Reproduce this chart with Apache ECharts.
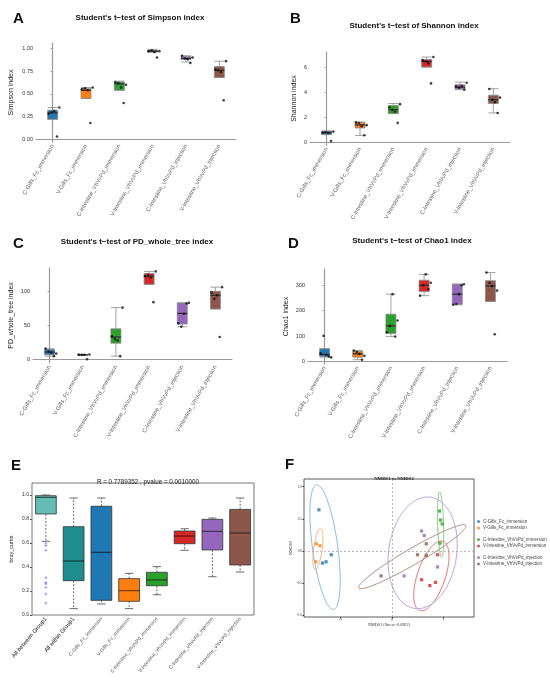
<!DOCTYPE html>
<html>
<head>
<meta charset="utf-8">
<script src="https://cdn.jsdelivr.net/npm/echarts@6/dist/echarts.min.js"></script>
<style>
  html, body { margin: 0; background: #fff; }
  #main { width: 550px; height: 685px; }
</style>
</head>
<body>
<div id="main"></div>
<script>
// groups shared by panels A-D and F
const groups = ['C-Gills_Fc_immersion', 'V-Gills_Fc_immersion', 'C-Intestine_VhVvPd_immersion',
  'V-Intestine_VhVvPd_immersion', 'C-Intestine_VhVvPd_injection', 'V-Intestine_VhVvPd_injection'];
const colors = ['#1f77b4', '#ff7f0e', '#2ca02c', '#d62728', '#9467bd', '#8c564b'];
// horizontal jitter of the sample points (category units)
const jitter = [-0.12, -0.03, 0.2, 0.13, 0.05];

// A: Simpson  [low, q1, median, q3, high]
const simpsonBox = [[0.22, 0.22, 0.29, 0.32, 0.35], [0.45, 0.45, 0.54, 0.56, 0.57], [0.54, 0.54, 0.61, 0.63, 0.64],
  [0.96, 0.96, 0.97, 0.98, 0.99], [0.85, 0.88, 0.89, 0.91, 0.92], [0.68, 0.68, 0.76, 0.80, 0.86]];
const simpsonPts = [[0.28, 0.30, 0.35, 0.03, 0.31], [0.55, 0.56, 0.57, 0.18, 0.54], [0.63, 0.62, 0.60, 0.40, 0.57],
  [0.97, 0.98, 0.97, 0.90, 0.96], [0.92, 0.89, 0.90, 0.84, 0.88], [0.77, 0.76, 0.86, 0.43, 0.74]];
// B: Shannon
const shannonBox = [[0.63, 0.63, 0.80, 0.90, 0.92], [0.55, 1.16, 1.40, 1.60, 1.62], [2.30, 2.30, 2.60, 2.94, 3.10],
  [6.00, 6.00, 6.45, 6.60, 6.80], [4.20, 4.26, 4.40, 4.60, 4.80], [2.35, 3.10, 3.40, 3.76, 4.28]];
const shannonPts = [[0.78, 0.82, 0.88, 0.11, 0.75], [1.60, 1.55, 1.38, 0.58, 1.30], [2.80, 2.60, 3.05, 1.56, 2.45],
  [6.55, 6.45, 6.80, 4.70, 6.30], [4.45, 4.35, 4.75, 4.20, 4.50], [4.25, 3.40, 3.57, 2.35, 3.20]];
// C: PD_whole_tree
const pdBox = [[5, 7, 11, 14.8, 16], [6.5, 6.5, 7, 7.4, 7.4], [5, 24, 33, 45, 76],
  [110, 110, 122, 126, 129], [48, 52, 67.5, 82.8, 83], [74, 74, 94, 100, 106]];
const pdPts = [[16, 12, 9, 5, 10], [7.2, 7, 7.4, 0.5, 7], [34, 30, 76, 5, 28],
  [122, 124, 129, 84, 120], [53, 48, 83, 82, 67], [98, 89, 106, 33, 94]];
// D: Chao1
const chaoBox = [[17, 20, 28, 50, 50], [7, 17, 30, 40, 43], [98, 110, 140, 186, 265],
  [259, 275, 300, 320, 343], [223, 225, 265, 304, 305], [236, 236, 297, 318, 350]];
const chaoPts = [[32, 101, 16, 20, 25], [43, 37, 22, 7, 30], [115, 140, 161, 98, 265],
  [259, 300, 310, 284, 343], [223, 226, 304, 300, 265], [350, 310, 279, 107, 297]];

// E: bray_curtis
const brayGroups = ['All between Group1', 'All within Group1'].concat(groups);
const brayColors = ['#63bdb3', '#1f8d8f'].concat(colors);
const brayBox = [[0.614, 0.842, 0.98, 0.994, 1.0], [0.053, 0.286, 0.45, 0.736, 0.975], [0.092, 0.122, 0.522, 0.906, 0.975],
  [0.053, 0.114, 0.203, 0.303, 0.347], [0.169, 0.244, 0.292, 0.356, 0.403], [0.539, 0.594, 0.658, 0.70, 0.719],
  [0.319, 0.542, 0.697, 0.797, 0.808], [0.358, 0.417, 0.683, 0.88, 0.975]];
const brayFliers = [0.60, 0.58, 0.54, 0.31, 0.27, 0.26, 0.23, 0.175, 0.10];

// F: NMDS
const nmdsX = [[-1.42, -1.18, -1.28, -1.35], [-1.47, -1.40, -1.48], [0.93, 0.95, 0.98, 0.94],
  [0.89, 0.58, 0.74, 0.85], [0.58, 0.63, 0.89, 0.24], [0.67, 0.50, 0.67, -0.21]];
const nmdsY = [[0.64, -0.06, -0.17, -0.19], [0.11, 0.08, -0.17], [0.62, 0.48, 0.42, 0.12],
  [-0.06, -0.45, -0.54, -0.49], [0.31, 0.24, -0.25, -0.39], [0.11, -0.06, -0.07, -0.39]];
// ellipse: centre x, centre y, semi-axis u (x,y), semi-axis v (x,y)
const ellipses = [[-1.30, 0.06, -0.165, 0.97, 0.244, 0.026], [-1.44, 0.03, 0.052, 0.321, 0.083, -0.009],
  [0.95, 0.41, -0.019, 0.508, 0.058, 0], [0.77, -0.39, 0.227, 0.539, 0.258, -0.069],
  [0.60, -0.03, 0.097, 0.87, 0.667, 0], [0.40, -0.09, 1.042, 0.487, 0.078, -0.107]];
const ellipseColors = ['#86bde6', '#f8b57a', '#7fcf7f', '#e87474', '#bba6e6', '#b48f88'];

const panels = [
  { box: simpsonBox, pts: simpsonPts, title: "Student's t\u2212test of Simpson index", yName: 'Simpson index',
    left: 36, top: 43, width: 200, height: 99, min: -0.03, max: 1.06, ticks: [0, 0.25, 0.5, 0.75, 1],
    fmt: v => v.toFixed(2), gap: 21, tx: 135, ty: 9, letter: 'A', lx: 8, ly: 6 },
  { box: shannonBox, pts: shannonPts, title: "Student's t\u2212test of Shannon index", yName: 'Shannon index',
    left: 310, top: 52, width: 200, height: 93, min: -0.2, max: 7.2, ticks: [0, 2, 4, 6],
    fmt: v => v, gap: 12, tx: 409, ty: 17, letter: 'B', lx: 285, ly: 6 },
  { box: pdBox, pts: pdPts, title: "Student's t\u2212test of PD_whole_tree index", yName: 'PD_whole_tree index',
    left: 33, top: 268, width: 199, height: 95, min: -5, max: 134, ticks: [0, 50, 100],
    fmt: v => v, gap: 18, tx: 132, ty: 233, letter: 'C', lx: 8, ly: 231 },
  { box: chaoBox, pts: chaoPts, title: "Student's t\u2212test of Chao1 index", yName: 'Chao1 index',
    left: 308, top: 269, width: 199, height: 95, min: -10, max: 364, ticks: [0, 100, 200, 300],
    fmt: v => v, gap: 18, tx: 407, ty: 232, letter: 'D', lx: 283, ly: 231 }
];

const grid = [], xAxis = [], yAxis = [], series = [], title = [];
const axisGray = '#9a9a9a';

panels.forEach((p, i) => {
  grid.push({ left: p.left, top: p.top, width: p.width, height: p.height });
  title.push({ text: p.title, left: p.tx, top: p.ty, textAlign: 'center',
    textStyle: { fontSize: 8, fontWeight: 'bold', color: '#111' } });
  title.push({ text: p.letter, left: p.lx, top: p.ly, textStyle: { fontSize: 15, fontWeight: 'bold', color: '#111' } });
  xAxis.push({
    type: 'category', gridIndex: i, data: groups,
    axisLine: { lineStyle: { color: axisGray, width: 1.2 } },
    axisTick: { alignWithLabel: true, length: 2, lineStyle: { color: axisGray } },
    axisLabel: { rotate: 60, fontSize: 5.8, color: '#666', margin: 3, interval: 0 }
  });
  xAxis.push({ type: 'value', gridIndex: i, min: -0.5, max: 5.5, show: false });
  yAxis.push({
    type: 'value', gridIndex: i, min: p.min, max: p.max,
    name: p.yName, nameLocation: 'middle', nameGap: p.gap,
    nameTextStyle: { fontSize: 7, color: '#222' },
    splitLine: { show: false },
    axisLine: { show: true, lineStyle: { color: axisGray, width: 1.2 } },
    axisTick: { show: true, length: 2, customValues: p.ticks, lineStyle: { color: axisGray } },
    axisLabel: { customValues: p.ticks, fontSize: 5.5, color: '#333', margin: 3, formatter: p.fmt }
  });
  series.push({
    type: 'boxplot', xAxisIndex: 2 * i, yAxisIndex: i, boxWidth: [10, 10], silent: true,
    itemStyle: { borderColor: '#8a8a8a', borderWidth: 0.8 },
    data: p.box.map((b, g) => ({ value: b, itemStyle: { color: colors[g] } }))
  });
  series.push({
    type: 'scatter', xAxisIndex: 2 * i, yAxisIndex: i, symbol: 'rect', symbolSize: [10, 1.2],
    itemStyle: { color: '#111' }, silent: true, z: 5,
    data: p.box.map((b, g) => [g, b[2]])
  });
  series.push({
    type: 'scatter', xAxisIndex: 2 * i + 1, yAxisIndex: i, symbolSize: 2.6,
    itemStyle: { color: '#111' }, silent: true, z: 6,
    data: p.pts.flatMap((vals, g) => vals.map((v, k) => [g + jitter[k], v]))
  });
});

// ---- E ----
grid.push({ left: 32, top: 483, width: 222, height: 132, show: true, borderColor: '#555', borderWidth: 0.8 });
title.push({ text: 'E', left: 6, top: 453, textStyle: { fontSize: 15, fontWeight: 'bold', color: '#111' } });
title.push({ text: 'R = 0.7789352 , pvalue = 0.0010000', left: 143, top: 474, textAlign: 'center',
  textStyle: { fontSize: 6.3, fontWeight: 'normal', color: '#222' } });
xAxis.push({
  type: 'category', gridIndex: 4, data: brayGroups,
  axisLine: { show: false },
  axisTick: { alignWithLabel: true, length: 2, lineStyle: { color: '#555' } },
  axisLabel: {
    rotate: 50, margin: 3, interval: 0,
    formatter: (v, idx) => idx < 2 ? '{big|' + v + '}' : '{small|' + v + '}',
    rich: { big: { fontSize: 5.8, color: '#222' }, small: { fontSize: 5, color: '#555' } }
  }
});
const brayTicks = [0, 0.2, 0.4, 0.6, 0.8, 1.0];
yAxis.push({
  type: 'value', gridIndex: 4, min: 0, max: 1.1,
  name: 'bray_curtis', nameLocation: 'middle', nameGap: 18,
  nameTextStyle: { fontSize: 5.5, color: '#222' },
  splitLine: { show: false }, axisLine: { show: false },
  axisTick: { show: true, length: 2, customValues: brayTicks, lineStyle: { color: '#555' } },
  axisLabel: { customValues: brayTicks, fontSize: 5, color: '#333', margin: 3, formatter: v => v.toFixed(1) }
});
series.push({
  type: 'custom', xAxisIndex: 8, yAxisIndex: 4, silent: true,
  encode: { x: 0, y: [1, 2, 3, 4, 5] },
  data: brayBox.map((b, i) => [i].concat(b)),
  renderItem: (params, api) => {
    const i = api.value(0);
    const bw = api.size([1, 0])[0] * 0.75;
    const x = api.coord([i, 0])[0];
    const y = k => api.coord([i, api.value(k)])[1];
    const lo = y(1), q1 = y(2), md = y(3), q3 = y(4), hi = y(5);
    const cap = bw * 0.4;
    const dash = { stroke: '#444', lineWidth: 0.8, lineDash: [2, 1.5] };
    const solid = { stroke: '#444', lineWidth: 0.8 };
    return {
      type: 'group', children: [
        { type: 'line', shape: { x1: x, y1: q3, x2: x, y2: hi }, style: dash },
        { type: 'line', shape: { x1: x, y1: q1, x2: x, y2: lo }, style: dash },
        { type: 'line', shape: { x1: x - cap / 2, y1: hi, x2: x + cap / 2, y2: hi }, style: solid },
        { type: 'line', shape: { x1: x - cap / 2, y1: lo, x2: x + cap / 2, y2: lo }, style: solid },
        { type: 'rect', shape: { x: x - bw / 2, y: q3, width: bw, height: q1 - q3 },
          style: { fill: brayColors[i], stroke: '#333', lineWidth: 0.8 } },
        { type: 'line', shape: { x1: x - bw / 2, y1: md, x2: x + bw / 2, y2: md },
          style: { stroke: 'rgba(0,0,0,0.55)', lineWidth: 1.2 } }
      ]
    };
  }
});
series.push({
  type: 'scatter', xAxisIndex: 8, yAxisIndex: 4, silent: true,
  symbol: 'path://M1.5,0h1v1.5h1.5v1h-1.5v1.5h-1v-1.5h-1.5v-1h1.5z', symbolSize: 3,
  itemStyle: { color: '#6a6aff' },
  data: brayFliers.map(v => [0, v])
});

// ---- F ----
const serif = 'Liberation Serif, DejaVu Serif, serif';
grid.push({ left: 304, top: 479, width: 170, height: 138, show: true, borderColor: '#333', borderWidth: 0.8 });
title.push({ text: 'F', left: 280, top: 452, textStyle: { fontSize: 15, fontWeight: 'bold', color: '#111' } });
title.push({ text: 'NMDS1 vs NMDS2', left: 389, top: 471, textAlign: 'center',
  textStyle: { fontSize: 4.8, fontWeight: 'bold', color: '#222', fontFamily: serif } });
const fx = [-1, 0, 1], fy = [-1, -0.5, 0, 0.5, 1];
xAxis.push({
  type: 'value', gridIndex: 5, min: -1.71, max: 1.6,
  name: 'NMDS1 (Stress=0.0962)', nameLocation: 'middle', nameGap: 6,
  nameTextStyle: { fontSize: 4.2, color: '#333', fontFamily: serif },
  splitLine: { show: false }, axisLine: { show: false, onZero: false },
  axisTick: { show: true, length: 1.5, customValues: fx, lineStyle: { color: '#333' } },
  axisLabel: { customValues: fx, fontSize: 3.4, color: '#333', margin: 2, fontFamily: serif }
});
yAxis.push({
  type: 'value', gridIndex: 5, min: -1.03, max: 1.12,
  name: 'NMDS2', nameLocation: 'middle', nameGap: 11,
  nameTextStyle: { fontSize: 4.2, color: '#333', fontFamily: serif },
  splitLine: { show: false }, axisLine: { show: false, onZero: false },
  axisTick: { show: true, length: 1.5, customValues: fy, lineStyle: { color: '#333' } },
  axisLabel: { customValues: fy, fontSize: 3.4, color: '#333', margin: 2, fontFamily: serif, formatter: v => v.toFixed(1) }
});
series.push({
  type: 'custom', xAxisIndex: 9, yAxisIndex: 5, silent: true, z: 2,
  encode: { x: 0, y: 1 },
  data: ellipses.map((e, g) => e.concat([g])),
  renderItem: (params, api) => {
    const pts = [];
    for (let k = 0; k <= 90; k++) {
      const t = Math.PI * 2 * k / 90;
      pts.push(api.coord([
        api.value(0) + api.value(2) * Math.cos(t) + api.value(4) * Math.sin(t),
        api.value(1) + api.value(3) * Math.cos(t) + api.value(5) * Math.sin(t)
      ]));
    }
    return { type: 'polyline', shape: { points: pts },
      style: { stroke: ellipseColors[api.value(6)], fill: 'none', lineWidth: 1 } };
  }
});
groups.forEach((name, g) => {
  series.push({
    name, type: 'scatter', xAxisIndex: 9, yAxisIndex: 5, silent: true, z: 4,
    symbol: 'rect', symbolSize: 3.2, itemStyle: { color: colors[g] },
    data: nmdsX[g].map((x, k) => [x, nmdsY[g][k]]),
    markLine: g === 0 ? {
      silent: true, symbol: 'none', label: { show: false }, animation: false,
      lineStyle: { type: [2, 2], color: '#a8a8a8', width: 0.8 },
      data: [{ xAxis: 0 }, { yAxis: 0 }]
    } : undefined
  });
});
const legend = [0, 1, 2].map(j => ({
  data: groups.slice(2 * j, 2 * j + 2), orient: 'vertical', left: 477, top: 519 + j * 18,
  itemWidth: 3, itemHeight: 3, itemGap: 1.5, icon: 'circle', padding: 0, selectedMode: false,
  textStyle: { fontSize: 4.5, color: '#444', padding: [0, 0, 0, -2] }
}));

const myChart = echarts.init(document.getElementById('main'));
myChart.setOption({
  backgroundColor: '#fff',
  animation: false,
  textStyle: { fontFamily: 'Liberation Sans, Arial, sans-serif' },
  title, legend, grid, xAxis, yAxis, series
});
</script>
</body>
</html>
